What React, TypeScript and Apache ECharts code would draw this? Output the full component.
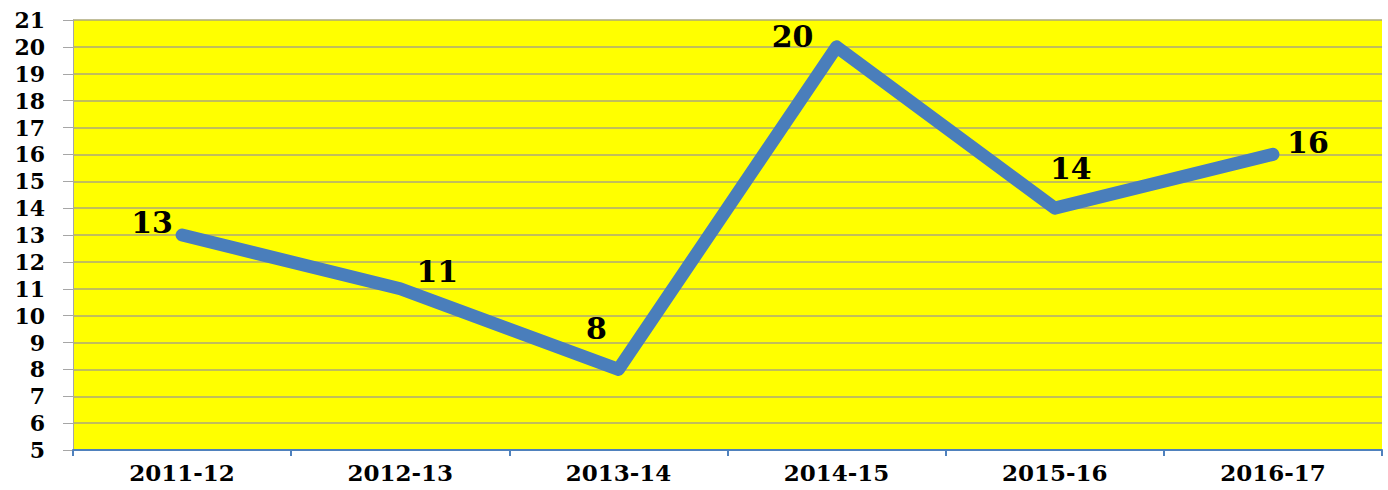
import React, { useEffect, useRef } from "react";
import * as echarts from "echarts";

const categories = ["2011-12", "2012-13", "2013-14", "2014-15", "2015-16", "2016-17"];
const values = [13, 11, 8, 20, 14, 16];
const labelOffsets: [number, number][] = [
  [-30, -13],
  [37, -17],
  [-22, -41],
  [-44, -10],
  [16, -40],
  [35, -12],
];

export default function App() {
  const ref = useRef<HTMLDivElement>(null);
  useEffect(() => {
    if (!ref.current) return;
    const chart = echarts.init(ref.current, null, { renderer: "svg" });
    const font = "'DejaVu Serif', 'Liberation Serif', serif";
    chart.setOption({
      animation: false,
      backgroundColor: "#ffffff",
      grid: {
        left: 73,
        right: 6,
        top: 20,
        bottom: 40,
        show: true,
        backgroundColor: "#FFFF00",
        borderWidth: 0,
      },
      xAxis: {
        type: "category",
        data: categories,
        boundaryGap: true,
        axisLine: { show: true, lineStyle: { color: "#4F81BD", width: 2 } },
        axisTick: { show: true, length: 6, lineStyle: { color: "#4F81BD", width: 2 } },
        axisLabel: {
          color: "#000",
          fontFamily: font,
          fontWeight: "bold",
          fontSize: 23,
          margin: 11,
        },
        splitLine: { show: false },
      },
      yAxis: {
        type: "value",
        min: 5,
        max: 21,
        interval: 1,
        axisLine: { show: true, lineStyle: { color: "#A6A6A6", width: 1 } },
        axisTick: { show: true, length: 10, lineStyle: { color: "#A6A6A6" } },
        axisLabel: {
          color: "#000",
          fontFamily: font,
          fontWeight: "bold",
          fontSize: 22,
          margin: 28,
        },
        splitLine: { show: true, lineStyle: { color: "#ADA87A", width: 1.5 } },
      },
      series: [
        {
          type: "line",
          data: values.map((v, i) => ({
            value: v,
            label: { offset: labelOffsets[i] },
          })),
          showSymbol: true,
          symbol: "circle",
          symbolSize: 2,
          itemStyle: { color: "rgba(0,0,0,0)", borderWidth: 0 },
          lineStyle: { color: "#4A7EBB", width: 13, cap: "round", join: "round" },
          label: {
            show: true,
            position: "inside",
            color: "#000",
            fontFamily: font,
            fontWeight: "bold",
            fontSize: 30,
          },
        },
      ],
    });
    return () => chart.dispose();
  }, []);
  return (
    <div
      ref={ref}
      style={{ position: "fixed", left: 0, top: 0, width: 1388, height: 490 }}
    />
  );
}
